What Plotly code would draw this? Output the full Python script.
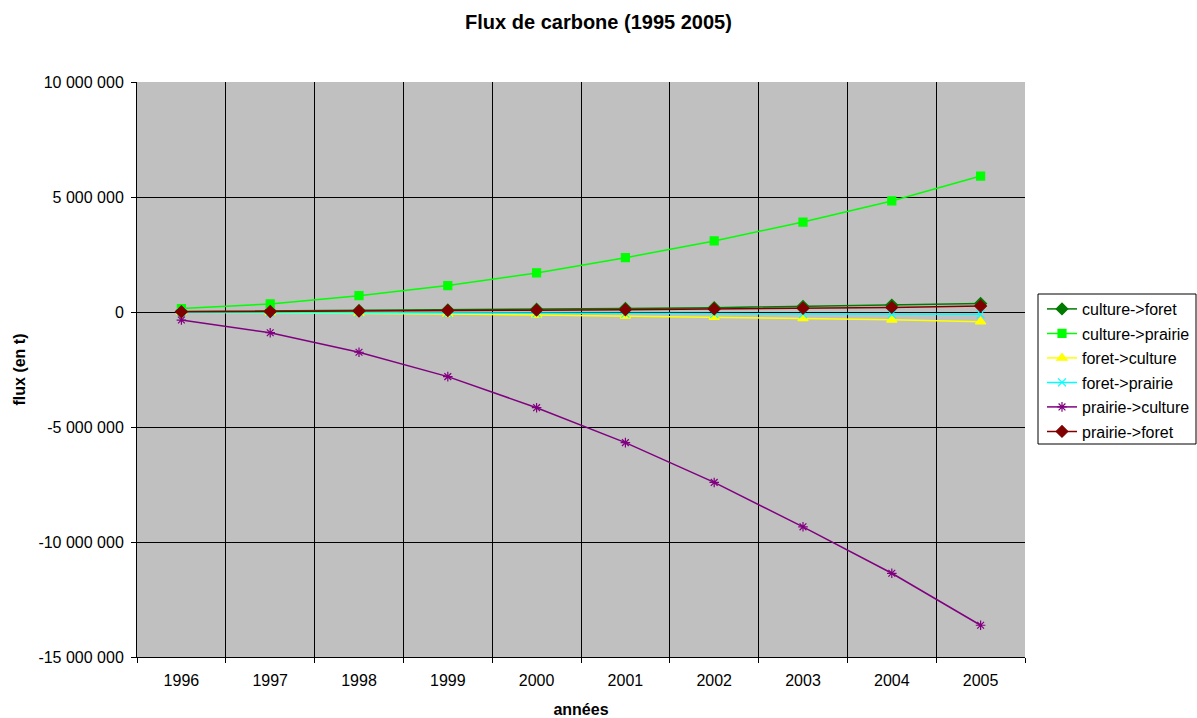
import plotly.graph_objects as go

# Années et flux de carbone (tonnes) par type de changement d'occupation du sol
years = ["1996", "1997", "1998", "1999", "2000", "2001", "2002", "2003", "2004", "2005"]

culture_foret = [20000, 40000, 70000, 90000, 120000, 150000, 190000, 240000, 300000, 370000]
culture_prairie = [150000, 350000, 710000, 1150000, 1700000, 2360000, 3090000, 3910000, 4830000, 5910000]
foret_culture = [-10000, -30000, -60000, -90000, -130000, -170000, -220000, -280000, -340000, -420000]
foret_prairie = [-10000, -20000, -30000, -50000, -60000, -70000, -80000, -90000, -100000, -100000]
prairie_culture = [-350000, -900000, -1750000, -2810000, -4160000, -5680000, -7410000, -9340000, -11360000, -13620000]
prairie_foret = [10000, 20000, 40000, 60000, 80000, 100000, 130000, 160000, 200000, 260000]

# axe des flux : graduations et libellés
y_ticks = [-15000000, -10000000, -5000000, 0, 5000000, 10000000]
y_tick_labels = ["-15 000 000", "-10 000 000", "-5 000 000", "0", "5 000 000", "10 000 000"]

series = [
    ("culture->foret", culture_foret, "#007A00", "diamond", 9),
    ("culture->prairie", culture_prairie, "#00FF00", "square", 8),
    ("foret->culture", foret_culture, "#FFFF00", "triangle-up", 9),
    ("foret->prairie", foret_prairie, "#00FFFF", "x-thin-open", 8),
    ("prairie->culture", prairie_culture, "#800080", "asterisk-open", 8),
    ("prairie->foret", prairie_foret, "#800000", "diamond", 9),
]

font = "Liberation Sans, Arial, sans-serif"

# plot area in pixels, used to place legend entries in paper coordinates
L, R, T, B = 137, 1025, 82, 657
W, H = R - L, B - T


def px_x(px):
    return (px - L) / W


def px_y(py):
    return (B - py) / H


fig = go.Figure()
layout_legends = {}
for i, (name, vals, color, symbol, size) in enumerate(series):
    key = "legend" if i == 0 else f"legend{i + 1}"
    fig.add_trace(go.Scatter(
        x=years, y=vals, name=name, mode="lines+markers",
        line=dict(color=color, width=1.5),
        marker=dict(symbol=symbol, size=size, color=color,
                    line=dict(color=color, width=1.2)),
        legend=key,
    ))
    layout_legends[key] = dict(
        x=px_x(1042), xanchor="left",
        y=px_y(309 + 24.5 * i), yanchor="middle",
        bgcolor="rgba(0,0,0,0)", borderwidth=0,
        font=dict(size=16, family=font, color="black"),
    )

fig.update_layout(
    width=1197, height=718,
    margin=dict(l=L, r=1197 - R, t=T, b=718 - B, autoexpand=False),
    paper_bgcolor="white",
    plot_bgcolor="#C0C0C0",
    font=dict(family=font, size=16, color="black"),
    title=dict(text="<b>Flux de carbone (1995 2005)</b>", x=0.5, xanchor="center",
               y=1 - 22 / 718, yanchor="middle", font=dict(size=20, family=font)),
    showlegend=True,
    **layout_legends,
)

# legend frame
fig.add_shape(type="rect", xref="paper", yref="paper",
              x0=px_x(1038), x1=px_x(1196), y0=px_y(444), y1=px_y(294),
              line=dict(color="black", width=1), fillcolor="white", layer="below")

fig.update_xaxes(
    type="category", tickson="boundaries", range=[-0.5, 9.5], automargin=False,
    showgrid=True, gridcolor="black", gridwidth=1,
    showline=True, linecolor="black", linewidth=1, ticks="outside", ticklen=5,
    tickcolor="black", ticklabelstandoff=9, tickfont=dict(size=16),
    title=dict(text="<b>années</b>", font=dict(size=16, family=font), standoff=17),
)
fig.update_yaxes(
    range=[-15000000, 10000000], tickvals=y_ticks, ticktext=y_tick_labels,
    automargin=False, tickfont=dict(size=16), ticklabelstandoff=4,
    showgrid=True, gridcolor="black", gridwidth=1,
    zeroline=True, zerolinecolor="black", zerolinewidth=1,
    showline=True, linecolor="black", linewidth=1, ticks="outside", ticklen=5,
    tickcolor="black",
    title=dict(text="<b>flux (en t)</b>", font=dict(size=16, family=font), standoff=8),
)

fig.write_html("out.html")
